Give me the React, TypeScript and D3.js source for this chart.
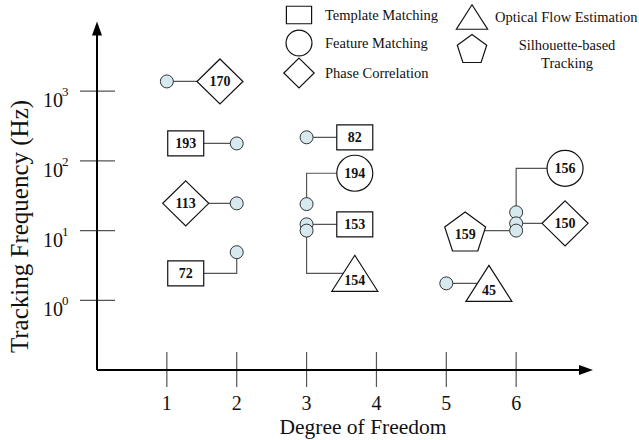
import * as d3 from "d3";

// degrees of freedom vs tracking frequency, one entry per cited work
const dof = [1, 2, 2, 2, 3, 3, 3, 3, 5, 6, 6, 6];
const freq = [1380, 178, 24.6, 4.9, 218, 24, 12.3, 10, 1.75, 18.3, 12.7, 10];
const method = ["phase", "template", "phase", "template", "template", "feature", "template", "optical", "optical", "feature", "phase", "silhouette"];
const refs = ["170", "193", "113", "72", "82", "194", "153", "154", "45", "156", "150", "159"];
// where each reference tag sits, in data units
const tagDof = [1.76, 1.27, 1.27, 1.27, 3.69, 3.69, 3.69, 3.69, 5.61, 6.7, 6.7, 5.27];
const tagFreq = [1380, 178, 24.6, 2.44, 218, 66.5, 12.3, 2.44, 1.75, 78.3, 12.7, 10];

const xTicks = [1, 2, 3, 4, 5, 6];
const yTicks = [1, 10, 100, 1000];

const legendItems = [
  { key: "template", label: "Template Matching" },
  { key: "feature", label: "Feature Matching" },
  { key: "phase", label: "Phase Correlation" },
  { key: "optical", label: "Optical Flow Estimation" },
  { key: "silhouette", label: "Silhouette-based Tracking" },
];

const W = 639;
const H = 440;
const serif = "'Liberation Serif', 'Times New Roman', serif";
const dotFill = "#d6e9ef";
const dark = "#333";

const x = d3.scaleLinear().domain([0, 7.1]).range([97, 593]);
const y = d3.scaleLog().domain([0.1, 10000]).range([370, 21.5]);

function shapePath(kind: string, cx: number, cy: number, s: number) {
  if (kind === "template") {
    const w = 36 * s, h = 25 * s;
    return `M${cx - w / 2},${cy - h / 2}h${w}v${h}h${-w}Z`;
  }
  if (kind === "phase") {
    const a = 23 * s, b = 22.5 * s;
    return `M${cx},${cy - b}L${cx + a},${cy}L${cx},${cy + b}L${cx - a},${cy}Z`;
  }
  if (kind === "optical") {
    const a = 23 * s, h = 36 * s;
    return `M${cx},${cy - h / 2}L${cx + a},${cy + h / 2}L${cx - a},${cy + h / 2}Z`;
  }
  if (kind === "silhouette") {
    const r = 21.5 * s;
    const pts = d3.range(5).map((i) => {
      const ang = -Math.PI / 2 + (i * 2 * Math.PI) / 5;
      return [cx + r * Math.cos(ang), cy + r * Math.sin(ang)];
    });
    return "M" + pts.map((p) => p.join(",")).join("L") + "Z";
  }
  // feature -> circle
  const r = 18 * s;
  return `M${cx - r},${cy}a${r},${r} 0 1,0 ${2 * r},0a${r},${r} 0 1,0 ${-2 * r},0Z`;
}

export default function App() {
  const idx = d3.range(dof.length);

  const connectors = idx.map((i) => {
    const px = x(dof[i]), py = y(freq[i]);
    const lx = x(tagDof[i]), ly = y(tagFreq[i]);
    const d = Math.abs(py - ly) < 1 ? `M${px},${py}H${lx}` : `M${px},${py}V${ly}H${lx}`;
    return <path key={"c" + i} d={d} fill="none" stroke="#555" strokeWidth={1.2} />;
  });

  const tags = idx.map((i) => {
    const cx = x(tagDof[i]);
    const cy = y(tagFreq[i]);
    const k = method[i];
    const oy = k === "silhouette" ? 3 : 0;
    const ty = k === "optical" ? cy + 7 : cy + oy;
    return (
      <g key={"t" + i}>
        <path d={shapePath(k, cx, cy + oy, 1)} fill="#fff" stroke="#111" strokeWidth={1.2} />
        <text x={cx} y={ty} dy="0.35em" textAnchor="middle" fontFamily={serif} fontWeight="bold" fontSize={14} fill="#111">
          {refs[i]}
        </text>
      </g>
    );
  });

  const dots = idx.map((i) => (
    <circle key={"d" + i} cx={x(dof[i])} cy={y(freq[i])} r={6.5} fill={dotFill} stroke={dark} strokeWidth={1} />
  ));

  const leg = legendItems.map((it, i) => {
    const col = i < 3 ? 0 : 1;
    const row = col === 0 ? i : i - 3;
    const sx = col === 0 ? 299 : 472;
    const sy = col === 0 ? [15, 43, 73][row] : [17, 50][row];
    const scale = it.key === "template" ? 0.7 : it.key === "feature" ? 0.72 : it.key === "phase" ? 0.66 : it.key === "optical" ? 0.68 : 0.72;
    const words = it.key === "silhouette" ? ["Silhouette-based", "Tracking"] : [it.label];
    return (
      <g key={"l" + i}>
        <path d={shapePath(it.key, sx, sy, scale)} fill="#fff" stroke="#111" strokeWidth={1.2} />
        {words.length === 1 ? (
          <text x={col === 0 ? 325 : 495} y={sy} dy="0.35em" fontFamily={serif} fontSize={14.5} fill="#111">
            {it.label}
          </text>
        ) : (
          words.map((w, j) => (
            <text key={j} x={567} y={45 + j * 18} dy="0.35em" textAnchor="middle" fontFamily={serif} fontSize={14.5} fill="#111">
              {w}
            </text>
          ))
        )}
      </g>
    );
  });

  const x0 = x(0), y0 = y(0.1);

  return (
    <svg width={W} height={H} style={{ position: "absolute", left: 0, top: 0, background: "#fff" }}>
      {/* grid ticks */}
      {yTicks.map((t) => (
        <g key={"yt" + t}>
          <line x1={80} x2={115} y1={y(t)} y2={y(t)} stroke="#555" strokeWidth={1.2} />
          <text x={63} y={y(t) + 16} textAnchor="end" fontFamily={serif} fontSize={20} fill="#111">10</text>
          <text x={62} y={y(t) + 5} fontFamily={serif} fontSize={13} fill="#111">{Math.round(Math.log10(t))}</text>
        </g>
      ))}
      {xTicks.map((t) => (
        <g key={"xt" + t}>
          <line x1={x(t)} x2={x(t)} y1={352} y2={387} stroke="#555" strokeWidth={1.2} />
          <text x={x(t)} y={410} textAnchor="middle" fontFamily={serif} fontSize={20} fill="#111">{t}</text>
        </g>
      ))}
      {/* axes */}
      <line x1={x0} x2={x0} y1={y0} y2={34} stroke="#000" strokeWidth={2} />
      <path d={`M${x0},${y(10000)}L${x0 + 5},${y(10000) + 14}L${x0 - 5},${y(10000) + 14}Z`} fill="#000" />
      <line x1={x0} x2={580} y1={y0} y2={y0} stroke="#000" strokeWidth={2} />
      <path d={`M${x(7.1)},${y0}L${x(7.1) - 14},${y0 - 5}L${x(7.1) - 14},${y0 + 5}Z`} fill="#000" />
      <text x={363} y={434} textAnchor="middle" fontFamily={serif} fontSize={21.5} fill="#111">Degree of Freedom</text>
      <text transform="translate(28,226.5) rotate(-90)" textAnchor="middle" fontFamily={serif} fontSize={25} fill="#111">
        Tracking Frequency (Hz)
      </text>
      {connectors}
      {tags}
      {dots}
      {leg}
    </svg>
  );
}
